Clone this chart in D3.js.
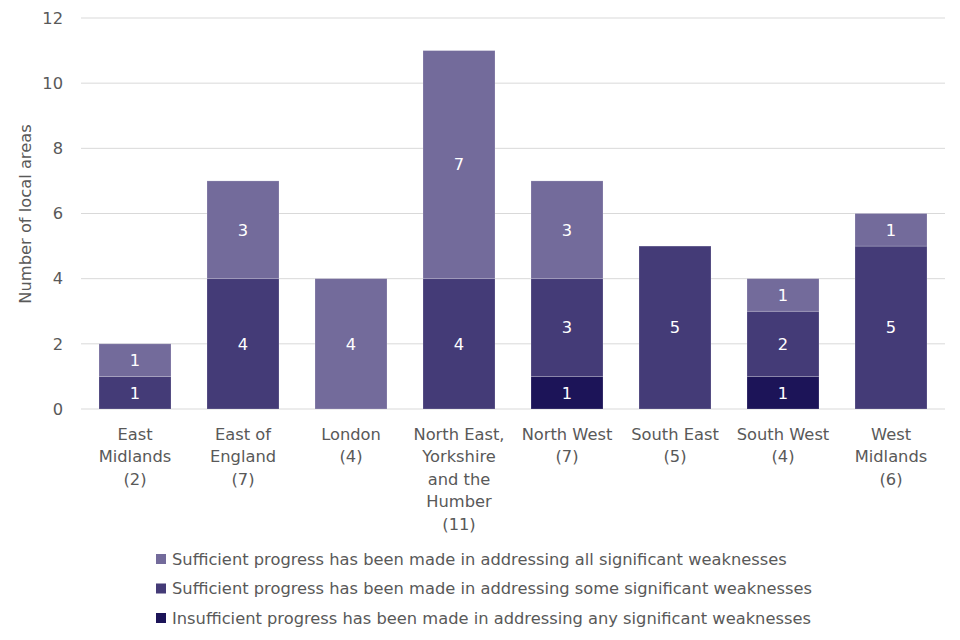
<!DOCTYPE html>
<html><head><meta charset="utf-8">
<script src="https://cdn.jsdelivr.net/npm/d3@7"></script>
<style>body{margin:0;background:#fff;} svg{display:block;font-family:"DejaVu Sans",Verdana,sans-serif;}</style>
</head><body>
<script>
const categories = [
  ["East","Midlands","(2)"],
  ["East of","England","(7)"],
  ["London","(4)"],
  ["North East,","Yorkshire","and the","Humber","(11)"],
  ["North West","(7)"],
  ["South East","(5)"],
  ["South West","(4)"],
  ["West","Midlands","(6)"]
];
const seriesNames = [
  "Insufficient progress has been made in addressing any significant weaknesses",
  "Sufficient progress has been made in addressing some significant weaknesses",
  "Sufficient progress has been made in addressing all significant weaknesses"
];
const insufficient = [0,0,0,0,1,0,1,0];
const someWeak =     [1,4,0,4,3,5,2,5];
const allWeak =      [1,3,4,7,3,0,1,1];
const yTicks = [0,2,4,6,8,10,12];
const colors = ["#1c1458","#443b77","#736b9b"];

const W=960,H=640, FS=16.3;
const svg=d3.select("body").append("svg").attr("width",W).attr("height",H);
const x=d3.scaleBand().domain(d3.range(categories.length)).range([81,945]).paddingInner(1/3).paddingOuter(1/6);
const y=d3.scaleLinear().domain([0,12]).range([409,18]);

svg.append("g").selectAll("line").data(yTicks).join("line")
  .attr("x1",81).attr("x2",945).attr("y1",d=>y(d)).attr("y2",d=>y(d))
  .attr("stroke","#d9d9d9").attr("stroke-width",1);
svg.append("g").selectAll("text").data(yTicks).join("text")
  .attr("x",63).attr("y",d=>y(d)).attr("dy","0.35em").attr("text-anchor","end")
  .attr("font-size",FS).attr("fill","#595959").text(d=>d);
svg.append("text").attr("transform","translate(31,214) rotate(-90)")
  .attr("text-anchor","middle").attr("font-size",FS).attr("fill","#595959")
  .text("Number of local areas");

const data = categories.map((c,i)=>({i, v:[insufficient[i],someWeak[i],allWeak[i]]}));
const stack=[];
data.forEach(d=>{let base=0;d.v.forEach((v,s)=>{if(v>0)stack.push({i:d.i,s,v,y0:base,y1:base+v});base+=v;});});

svg.append("g").selectAll("rect").data(stack).join("rect")
  .attr("x",d=>x(d.i)).attr("width",x.bandwidth())
  .attr("y",d=>y(d.y1)).attr("height",d=>y(d.y0)-y(d.y1))
  .attr("fill",d=>colors[d.s]).attr("stroke","#ffffff").attr("stroke-opacity",0.25).attr("stroke-width",0.75);
svg.append("g").selectAll("text").data(stack).join("text")
  .attr("x",d=>x(d.i)+x.bandwidth()/2).attr("y",d=>(y(d.y0)+y(d.y1))/2).attr("dy","0.36em")
  .attr("text-anchor","middle").attr("font-size",FS).attr("fill","#ffffff").text(d=>d.v);

const xl=svg.append("g").selectAll("text").data(categories).join("text")
  .attr("x",(d,i)=>x(i)+x.bandwidth()/2).attr("y",434)
  .attr("text-anchor","middle").attr("font-size",FS).attr("fill","#595959");
xl.each(function(d,i){
  const t=d3.select(this);
  d.forEach((line,k)=>t.append("tspan").attr("x",x(i)+x.bandwidth()/2).attr("dy",k===0?"0.35em":22.5).text(line));
});

const legendOrder=[2,1,0];
const lg=svg.append("g").selectAll("g").data(legendOrder).join("g")
  .attr("transform",(d,k)=>`translate(156,${559+k*29.5})`);
lg.append("rect").attr("x",0).attr("y",-5).attr("width",10).attr("height",10).attr("fill",d=>colors[d]);
lg.append("text").attr("x",16).attr("y",0).attr("dy","0.35em").attr("font-size",FS).attr("fill","#595959")
  .text(d=>seriesNames[d]);
</script>
</body></html>
